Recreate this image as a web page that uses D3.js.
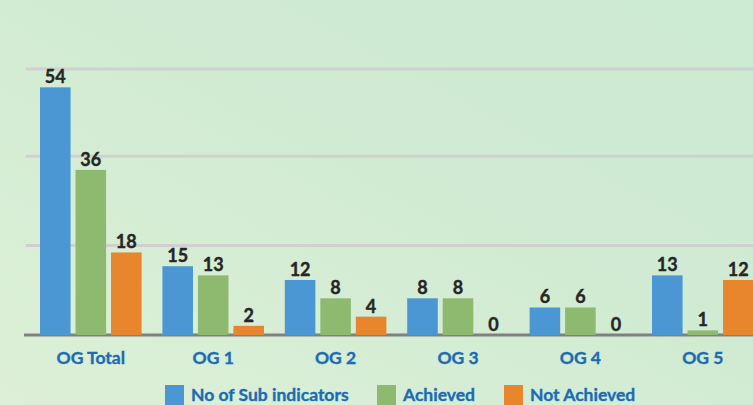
<!DOCTYPE html>
<html>
<head>
<meta charset="utf-8">
<script src="https://cdn.jsdelivr.net/npm/d3@7"></script>
<style>
  html, body { margin: 0; padding: 0; overflow: hidden; }
  svg { display: block; }
</style>
</head>
<body>
<svg id="chart" width="753" height="405"></svg>
<script>
const categories = ["OG Total", "OG 1", "OG 2", "OG 3", "OG 4", "OG 5"];
const seriesNames = ["No of Sub indicators", "Achieved", "Not Achieved"];
const subIndicators = [54, 15, 12, 8, 6, 13];
const achieved = [36, 13, 8, 8, 6, 1];
const notAchieved = [18, 2, 4, 0, 0, 12];
const gridValues = [19.5, 39, 58];
const colors = ["#4b97d3", "#8eba6f", "#e8862d"];

const seriesValues = [subIndicators, achieved, notAchieved];
const W = 753, H = 405;
const svg = d3.select("#chart");
const FONT = "Lato, 'Open Sans', sans-serif";

// background gradient
const defs = svg.append("defs");
const grad = defs.append("linearGradient").attr("id", "bg")
  .attr("x1", "0%").attr("y1", "100%").attr("x2", "100%").attr("y2", "0%");
grad.append("stop").attr("offset", "0%").attr("stop-color", "#ddf0d7");
grad.append("stop").attr("offset", "55%").attr("stop-color", "#d1ebd3");
grad.append("stop").attr("offset", "100%").attr("stop-color", "#cdead3");
svg.append("rect").attr("width", W).attr("height", H).attr("fill", "url(#bg)");

const baseY = 335;
const y = d3.scaleLinear().domain([0, 58]).range([baseY, 69]);

const step = 122.4;
const x = d3.scaleBand().domain(categories)
  .range([29.6, 29.6 + step * categories.length])
  .paddingInner(0.17).paddingOuter(0.085);
const xs = d3.scaleBand().domain(d3.range(seriesNames.length))
  .range([0, x.bandwidth()]).paddingInner(5 / 36).paddingOuter(0);

// gridlines
svg.append("g").selectAll("line").data(gridValues).join("line")
  .attr("x1", 25.7).attr("x2", W)
  .attr("y1", d => y(d)).attr("y2", d => y(d))
  .attr("stroke", "#d0d0d0").attr("stroke-width", 3);

// baseline
svg.append("line").attr("x1", 24).attr("x2", W)
  .attr("y1", baseY).attr("y2", baseY)
  .attr("stroke", "#808080").attr("stroke-width", 3);

// bars
const groups = svg.append("g").selectAll("g").data(categories).join("g")
  .attr("transform", c => `translate(${x(c)},0)`);

groups.each(function(c, ci) {
  const g = d3.select(this);
  seriesValues.forEach((vals, si) => {
    const v = vals[ci];
    g.append("rect")
      .attr("x", xs(si)).attr("width", xs.bandwidth())
      .attr("y", y(v)).attr("height", baseY - y(v))
      .attr("fill", colors[si]);
    g.append("text")
      .attr("x", xs(si) + xs.bandwidth() / 2)
      .attr("y", y(v) - 4)
      .attr("text-anchor", "middle")
      .attr("font-family", FONT)
      .attr("font-weight", "bold")
      .attr("font-size", 18)
      .attr("fill", "#262626")
      .attr("stroke", "#262626").attr("stroke-width", 0.4)
      .text(v);
  });
});

// x axis labels
const xAxis = d3.axisBottom(x).tickSize(0).tickPadding(0);
const ax = svg.append("g").attr("transform", `translate(0,${baseY})`).call(xAxis);
ax.select(".domain").remove();
ax.selectAll("text")
  .attr("y", 29).attr("dy", 0)
  .attr("font-family", FONT)
  .attr("font-weight", "bold")
  .attr("font-size", 17.5)
  .attr("fill", "#1b6cb3")
  .attr("stroke", "#1b6cb3").attr("stroke-width", 0.35);

// legend
const legendX = [165, 377, 504];
const leg = svg.append("g").selectAll("g").data(seriesNames).join("g")
  .attr("transform", (d, i) => `translate(${legendX[i]},385)`);
leg.append("rect").attr("width", 19).attr("height", 20).attr("fill", (d, i) => colors[i]);
leg.append("text").attr("x", 26).attr("y", 15.8)
  .attr("font-family", FONT)
  .attr("font-weight", "bold")
  .attr("font-size", 17.5)
  .attr("fill", "#1b6cb3")
  .attr("stroke", "#1b6cb3").attr("stroke-width", 0.35)
  .text(d => d);
</script>
</body>
</html>
